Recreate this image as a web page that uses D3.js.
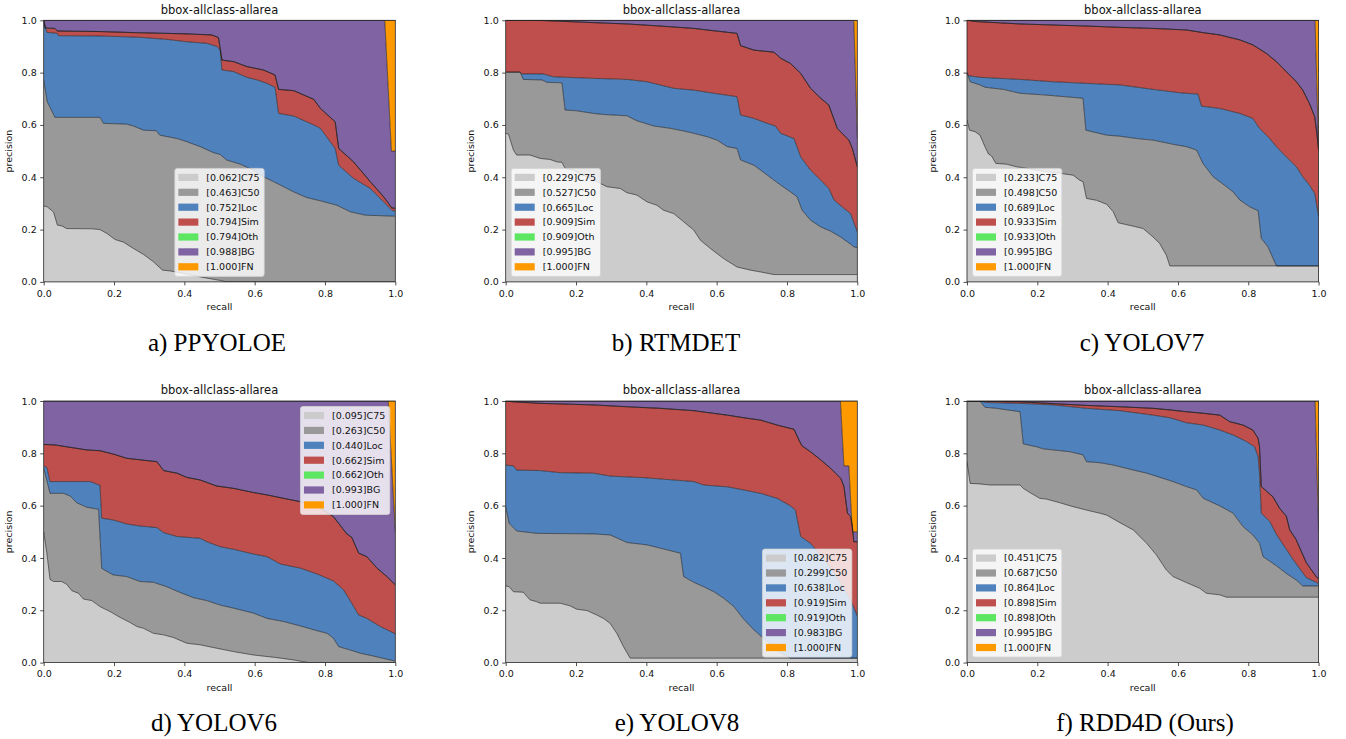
<!DOCTYPE html>
<html>
<head>
<meta charset="utf-8">
<script src="https://cdn.jsdelivr.net/npm/d3@7"></script>
<style>
  body { margin: 0; background: #fff; }
  svg { display: block; }
  text { font-family: "DejaVu Sans", sans-serif; fill: #111; }
  .caption { font-family: "Liberation Serif", "Times New Roman", serif; }
</style>
</head>
<body>
<svg id="chart"></svg>
<script>
// COCO-style error analysis PR curves, one panel per detector

///////////////////////////////////////////
//////////////// Data /////////////////////
///////////////////////////////////////////
const types = ["C75", "C50", "Loc", "Sim", "Oth", "BG", "FN"]
const captions = ["a)  PPYOLOE", "b)  RTMDET", "c)  YOLOV7", "d)  YOLOV6", "e)  YOLOV8", "f)  RDD4D (Ours)"]
const tickValues = [0, 0.2, 0.4, 0.6, 0.8, 1.0]

// each curve: [recall, precision] pairs
const ppyoloeAP = [0.062, 0.463, 0.752, 0.794, 0.794, 0.988, 1.000]
const ppyoloeC75 = [[0,.29],[.01,.287],[.028,.267],[.039,.217],[.052,.214],[.065,.204],[.137,.203],[.16,.2],[.18,.185],[.203,.162],[.227,.152],[.255,.128],[.284,.105],[.312,.077],[.338,.045],[.36,.042],[.407,.03],[.45,.018],[.5,.006],[.52,0],[1,0]]
const ppyoloeC50 = [[0,.772],[.01,.689],[.032,.629],[.16,.629],[.17,.606],[.236,.603],[.255,.596],[.284,.58],[.32,.578],[.33,.561],[.379,.548],[.407,.536],[.445,.517],[.483,.494],[.502,.487],[.52,.466],[.559,.45],[.597,.427],[.625,.402],[.654,.383],[.682,.364],[.711,.344],[.749,.322],[.787,.31],[.834,.293],[.872,.268],[.915,.255],[1,.251]]
const ppyoloeLoc = [[0,1],[.009,.954],[.039,.95],[.042,.941],[.16,.94],[.274,.935],[.35,.927],[.407,.918],[.464,.912],[.493,.9],[.502,.886],[.507,.81],[.54,.804],[.578,.782],[.607,.772],[.635,.759],[.658,.744],[.668,.644],[.711,.634],[.768,.6],[.787,.587],[.829,.51],[.839,.446],[.881,.396],[.929,.357],[.967,.306],[.99,.274],[1,.27]]
const ppyoloeSim = [[0,1],[.004,.97],[.032,.969],[.039,.959],[.16,.957],[.255,.953],[.35,.95],[.407,.948],[.478,.944],[.497,.934],[.507,.848],[.54,.842],[.578,.823],[.625,.81],[.658,.791],[.668,.736],[.711,.731],[.768,.698],[.787,.663],[.829,.612],[.839,.51],[.881,.459],[.929,.383],[.967,.325],[.99,.283],[1,.281]]
const ppyoloeBG = [[0,1],[.97,1],[.989,.5],[1,.5]]

const rtmdetAP = [0.229, 0.527, 0.665, 0.909, 0.909, 0.995, 1.000]
const rtmdetC75 = [[0,.568],[.008,.565],[.022,.504],[.031,.485],[.069,.485],[.098,.472],[.126,.468],[.145,.459],[.16,.457],[.169,.434],[.193,.427],[.221,.408],[.259,.383],[.288,.364],[.326,.357],[.345,.341],[.373,.332],[.402,.306],[.43,.293],[.449,.274],[.478,.261],[.506,.23],[.535,.198],[.554,.159],[.582,.128],[.62,.089],[.658,.057],[.696,.045],[.725,.038],[.763,.028],[1,.028]]
const rtmdetC50 = [[0,.802],[.041,.802],[.05,.774],[.103,.772],[.117,.763],[.16,.761],[.169,.657],[.202,.654],[.25,.644],[.278,.64],[.345,.635],[.373,.616],[.421,.596],[.468,.587],[.506,.577],[.535,.568],[.573,.555],[.601,.542],[.63,.517],[.658,.51],[.668,.466],[.706,.446],[.744,.408],[.782,.37],[.81,.344],[.829,.325],[.843,.274],[.867,.236],[.896,.21],[.924,.194],[.952,.172],[.981,.144],[.99,.134],[1,.131]]
const rtmdetLoc = [[0,.802],[.041,.802],[.046,.795],[.107,.795],[.136,.784],[.25,.778],[.345,.774],[.402,.765],[.478,.74],[.535,.733],[.592,.721],[.658,.708],[.668,.638],[.706,.625],[.744,.606],[.767,.596],[.782,.568],[.82,.548],[.839,.478],[.867,.427],[.896,.389],[.919,.357],[.934,.313],[.962,.281],[.981,.261],[1,.191]]
const rtmdetSim = [[0,1],[.107,.999],[.25,.991],[.345,.986],[.44,.978],[.535,.969],[.592,.96],[.658,.95],[.668,.903],[.706,.886],[.763,.878],[.782,.855],[.81,.835],[.839,.797],[.867,.74],[.896,.702],[.919,.676],[.943,.587],[.976,.542],[.986,.51],[1,.44]]
const rtmdetBG = [[0,1],[.99,1],[1,.55]]

const yolov7AP = [0.233, 0.498, 0.689, 0.933, 0.933, 0.995, 1.000]
const yolov7C75 = [[0,.619],[.007,.58],[.023,.574],[.037,.561],[.051,.517],[.061,.489],[.07,.481],[.082,.453],[.113,.45],[.141,.44],[.17,.434],[.226,.421],[.264,.415],[.302,.408],[.32,.389],[.33,.383],[.34,.319],[.368,.312],[.397,.297],[.416,.268],[.43,.226],[.473,.213],[.501,.204],[.529,.172],[.548,.147],[.567,.102],[.577,.061],[1,.061]]
const yolov7C50 = [[0,.8],[.009,.765],[.037,.753],[.051,.744],[.103,.736],[.151,.721],[.226,.714],[.33,.702],[.338,.58],[.397,.561],[.435,.557],[.482,.548],[.529,.542],[.586,.526],[.624,.517],[.653,.504],[.671,.453],[.7,.402],[.728,.374],[.757,.344],[.776,.313],[.804,.287],[.828,.272],[.837,.166],[.856,.134],[.88,.061],[1,.061]]
const yolov7Loc = [[0,.8],[.005,.788],[.037,.782],[.151,.774],[.245,.765],[.34,.759],[.435,.753],[.529,.736],[.605,.723],[.657,.718],[.667,.672],[.719,.663],[.776,.644],[.813,.625],[.832,.587],[.861,.548],[.88,.517],[.908,.478],[.937,.44],[.955,.402],[.974,.37],[.989,.338],[1,.25]]
const yolov7Sim = [[0,1],[.027,.995],[.151,.986],[.34,.978],[.435,.973],[.529,.969],[.624,.963],[.671,.953],[.719,.944],[.776,.925],[.813,.906],[.851,.874],[.88,.842],[.908,.804],[.937,.765],[.955,.733],[.974,.682],[.989,.631],[.995,.568],[1,.504]]
const yolov7BG = [[0,1],[.99,1],[1,.5]]

const yolov6AP = [0.095, 0.263, 0.440, 0.662, 0.662, 0.993, 1.000]
const yolov6C75 = [[0,.5],[.009,.418],[.018,.318],[.028,.31],[.051,.31],[.065,.3],[.08,.275],[.099,.265],[.113,.243],[.137,.237],[.16,.214],[.189,.195],[.217,.173],[.246,.153],[.265,.138],[.284,.131],[.312,.112],[.341,.106],[.369,.096],[.407,.074],[.445,.068],[.492,.055],[.54,.042],[.597,.029],[.663,.019],[.711,.01],[.749,.001],[.758,0],[1,0]]
const yolov6C50 = [[0,.745],[.018,.647],[.056,.647],[.075,.637],[.094,.611],[.122,.594],[.156,.586],[.165,.36],[.198,.335],[.236,.329],[.274,.31],[.312,.307],[.35,.29],[.388,.268],[.426,.248],[.464,.237],[.502,.22],[.54,.208],[.597,.189],[.635,.169],[.682,.157],[.73,.14],[.777,.122],[.806,.112],[.824,.093],[.839,.061],[.872,.048],[.9,.036],[.938,.025],[.976,.013],[1,.006]]
const yolov6Loc = [[0,.752],[.009,.746],[.018,.692],[.132,.692],[.16,.678],[.165,.552],[.198,.545],[.236,.53],[.274,.522],[.322,.516],[.341,.497],[.379,.482],[.445,.475],[.464,.462],[.502,.443],[.54,.433],[.597,.415],[.635,.405],[.673,.377],[.73,.361],[.777,.339],[.824,.312],[.853,.278],[.872,.236],[.896,.182],[.919,.169],[.957,.138],[1,.11]]
const yolov6Sim = [[0,.834],[.032,.832],[.065,.825],[.122,.813],[.16,.81],[.198,.797],[.236,.781],[.322,.768],[.341,.734],[.379,.724],[.407,.708],[.445,.698],[.492,.675],[.54,.666],[.597,.65],[.635,.641],[.682,.628],[.73,.615],[.777,.599],[.824,.558],[.862,.492],[.876,.479],[.896,.418],[.919,.405],[.948,.361],[.976,.329],[1,.297]]
const yolov6BG = [[0,1],[.98,1],[1,.5]]

const yolov8AP = [0.082, 0.299, 0.638, 0.919, 0.919, 0.983, 1.000]
const yolov8C75 = [[0,.293],[.01,.29],[.022,.271],[.05,.269],[.069,.24],[.088,.233],[.098,.227],[.155,.227],[.183,.217],[.202,.204],[.231,.199],[.259,.182],[.278,.169],[.297,.15],[.316,.112],[.335,.061],[.354,.017],[1,.017]]
const yolov8C50 = [[0,.596],[.01,.532],[.031,.503],[.088,.494],[.25,.492],[.297,.488],[.345,.459],[.402,.45],[.459,.431],[.497,.418],[.506,.329],[.535,.307],[.563,.29],[.592,.271],[.62,.246],[.649,.214],[.677,.166],[.706,.125],[.744,.08],[.782,.036],[.81,.017],[1,.017]]
const yolov8Loc = [[0,.755],[.022,.752],[.031,.736],[.098,.734],[.155,.726],[.25,.724],[.297,.713],[.392,.707],[.478,.698],[.535,.692],[.563,.679],[.63,.672],[.677,.66],[.725,.647],[.772,.628],[.81,.599],[.824,.583],[.839,.482],[.867,.456],[.896,.41],[.915,.38],[.953,.303],[.981,.24],[1,.178]]
const yolov8Sim = [[0,1],[.022,.997],[.098,.991],[.25,.985],[.345,.978],[.44,.972],[.535,.963],[.63,.946],[.687,.934],[.725,.927],[.772,.908],[.82,.892],[.834,.851],[.843,.828],[.867,.806],[.896,.775],[.924,.743],[.953,.704],[.962,.673],[.972,.571],[.981,.558],[.986,.52],[.99,.462],[1,.462]]
const yolov8BG = [[0,1],[.952,1],[.962,.752],[.976,.752],[.986,.5],[1,.5]]

const rdd4dAP = [0.451, 0.687, 0.864, 0.898, 0.898, 0.995, 1.000]
const rdd4dC75 = [[0,.768],[.009,.685],[.037,.683],[.065,.679],[.151,.679],[.16,.666],[.179,.65],[.207,.628],[.226,.625],[.264,.611],[.302,.596],[.34,.583],[.378,.571],[.397,.564],[.435,.535],[.473,.507],[.511,.456],[.539,.411],[.567,.354],[.586,.329],[.624,.306],[.662,.284],[.681,.265],[.719,.259],[.738,.25],[1,.25]]
const rdd4dC50 = [[0,1],[.037,1],[.051,.976],[.084,.972],[.151,.959],[.16,.836],[.198,.825],[.217,.817],[.293,.806],[.33,.794],[.34,.768],[.378,.764],[.416,.755],[.464,.739],[.511,.724],[.549,.708],[.586,.692],[.624,.673],[.653,.66],[.672,.628],[.719,.599],[.757,.571],[.785,.52],[.813,.488],[.832,.456],[.842,.405],[.88,.37],[.908,.341],[.936,.316],[.955,.293],[1,.293]]
const rdd4dLoc = [[0,1],[.037,1],[.056,.994],[.151,.991],[.245,.985],[.34,.972],[.435,.963],[.529,.946],[.577,.936],[.624,.917],[.672,.908],[.719,.889],[.757,.87],[.795,.845],[.818,.825],[.828,.787],[.832,.724],[.837,.571],[.861,.54],[.88,.49],[.927,.395],[.965,.325],[.995,.306],[1,.3]]
const rdd4dSim = [[0,1],[.151,.997],[.245,.99],[.34,.983],[.435,.978],[.529,.972],[.577,.966],[.624,.959],[.672,.953],[.719,.946],[.747,.921],[.785,.908],[.813,.889],[.828,.857],[.832,.825],[.837,.673],[.87,.634],[.889,.59],[.908,.56],[.918,.507],[.936,.47],[.965,.382],[.995,.325],[1,.32]]
const rdd4dBG = [[0,1],[.99,1],[1,.5]]

const fnCurve = [[0,1],[1,1]]
const zeroCurve = [[0,0],[1,0]]

///////////////////////////////////////////
//////////////// Constants ////////////////
///////////////////////////////////////////
const width = 1346
const height = 739
const colours = ["#cccccc", "#999999", "#4f82bd", "#bf4f4d", "#5ce661", "#8063a3", "#ff9900"]
const lineColour = "#1a1a1a"
const spineColour = "#222"

const colX = [43.7, 505.7, 967]
const rowY = [20.3, 401]
const plotW = 351.6
const plotH = 261.6
const captionX = [217, 676, 1142, 214, 677, 1145]
const captionY = [351, 731]

// Oth curve sits on top of Sim everywhere (same AP)
const panels = [
  { ap: ppyoloeAP, curves: [ppyoloeC75, ppyoloeC50, ppyoloeLoc, ppyoloeSim, ppyoloeSim, ppyoloeBG, fnCurve], legend: "lower center" },
  { ap: rtmdetAP, curves: [rtmdetC75, rtmdetC50, rtmdetLoc, rtmdetSim, rtmdetSim, rtmdetBG, fnCurve], legend: "lower left" },
  { ap: yolov7AP, curves: [yolov7C75, yolov7C50, yolov7Loc, yolov7Sim, yolov7Sim, yolov7BG, fnCurve], legend: "lower left" },
  { ap: yolov6AP, curves: [yolov6C75, yolov6C50, yolov6Loc, yolov6Sim, yolov6Sim, yolov6BG, fnCurve], legend: "upper right" },
  { ap: yolov8AP, curves: [yolov8C75, yolov8C50, yolov8Loc, yolov8Sim, yolov8Sim, yolov8BG, fnCurve], legend: "lower right" },
  { ap: rdd4dAP, curves: [rdd4dC75, rdd4dC50, rdd4dLoc, rdd4dSim, rdd4dSim, rdd4dBG, fnCurve], legend: "lower left" },
]

const svg = d3.select("#chart")
  .attr("width", width)
  .attr("height", height)

svg.append("rect").attr("width", width).attr("height", height).attr("fill", "#fff")

const x = d3.scaleLinear().domain([0, 1]).range([0, plotW])
const y = d3.scaleLinear().domain([0, 1]).range([plotH, 0])
const line = d3.line().x(d => x(d[0])).y(d => y(d[1]))

///////////////////////////////////////////
//////////////// Panels ///////////////////
///////////////////////////////////////////
panels.forEach((p, i) => {
  const left = colX[i % 3]
  const top = rowY[Math.floor(i / 3)]
  const g = svg.append("g").attr("transform", `translate(${left},${top})`)

  g.append("clipPath").attr("id", `clip${i}`)
    .append("rect").attr("width", plotW).attr("height", plotH)

  const plot = g.append("g").attr("clip-path", `url(#clip${i})`)
  const all = [zeroCurve, ...p.curves]

  // fill between consecutive curves
  for (let k = 0; k < types.length; k++) {
    const upper = line(all[k + 1])
    const lower = line(all[k].slice().reverse())
    plot.append("path")
      .attr("d", upper + "L" + lower.slice(1) + "Z")
      .attr("fill", colours[k])
  }
  // black curve lines on top
  for (let k = 1; k <= types.length; k++) {
    plot.append("path")
      .attr("d", line(all[k]))
      .attr("fill", "none")
      .attr("stroke", lineColour)
      .attr("stroke-width", 0.6)
  }

  // axes
  const xAxis = g.append("g").attr("transform", `translate(0,${plotH})`)
    .call(d3.axisBottom(x).tickValues(tickValues).tickFormat(d3.format(".1f")).tickSize(3.5).tickPadding(4.5))
  const yAxis = g.append("g")
    .call(d3.axisLeft(y).tickValues(tickValues).tickFormat(d3.format(".1f")).tickSize(3.5).tickPadding(3.5))
  ;[xAxis, yAxis].forEach(a => {
    a.select(".domain").remove()
    a.selectAll("line").attr("stroke", spineColour).attr("stroke-width", 0.8)
    a.selectAll("text").style("font-size", "9.5px").style("font-family", "DejaVu Sans").attr("fill", "#111")
  })

  g.append("rect")
    .attr("width", plotW).attr("height", plotH)
    .attr("fill", "none").attr("stroke", spineColour).attr("stroke-width", 0.8)

  g.append("text").attr("x", plotW / 2).attr("y", -6.8)
    .attr("text-anchor", "middle").style("font-size", "11.5px")
    .text("bbox-allclass-allarea")
  g.append("text").attr("x", plotW / 2).attr("y", plotH + 28.5)
    .attr("text-anchor", "middle").style("font-size", "9.5px")
    .text("recall")
  g.append("text").attr("transform", `translate(${-31.5},${plotH / 2}) rotate(-90)`)
    .attr("text-anchor", "middle").style("font-size", "9.5px")
    .text("precision")

  ////////////////////////////
  ////////// Legend //////////
  ////////////////////////////
  const lg = g.append("g")
  const box = lg.append("rect")
  const rowStep = 14.9
  const labels = lg.selectAll(".lab")
    .data(types)
    .join("text")
    .attr("class", "lab")
    .attr("x", 31.5)
    .attr("y", (d, j) => 9 + j * rowStep)
    .attr("dy", "0.35em")
    .style("font-size", "9.5px")
    .text((d, j) => `[${p.ap[j].toFixed(3)}]${d}`)
  lg.selectAll(".patch")
    .data(types)
    .join("rect")
    .attr("class", "patch")
    .attr("x", 3.5)
    .attr("y", (d, j) => 9 + j * rowStep - 3.6)
    .attr("width", 20)
    .attr("height", 7.2)
    .attr("fill", (d, j) => colours[j])

  const textW = d3.max(labels.nodes(), n => n.getComputedTextLength())
  const bw = textW + 36
  const bh = 108
  box.attr("width", bw).attr("height", bh).attr("rx", 2.5)
    .attr("fill", "rgba(255,255,255,0.8)")
    .attr("stroke", "#d3d3d3").attr("stroke-width", 0.8)

  const pad = 5.5
  let lx = pad, ly = plotH - pad - bh
  if (p.legend === "lower center") lx = (plotW - bw) / 2
  if (p.legend.endsWith("right")) lx = plotW - pad - bw
  if (p.legend.startsWith("upper")) ly = pad
  lg.attr("transform", `translate(${lx},${ly})`)

  // caption under each panel
  svg.append("text")
    .attr("class", "caption")
    .attr("x", captionX[i])
    .attr("y", captionY[Math.floor(i / 3)])
    .attr("text-anchor", "middle")
    .style("font-size", "25px")
    .style("fill", "#000")
    .text(captions[i])
})
</script>
</body>
</html>
